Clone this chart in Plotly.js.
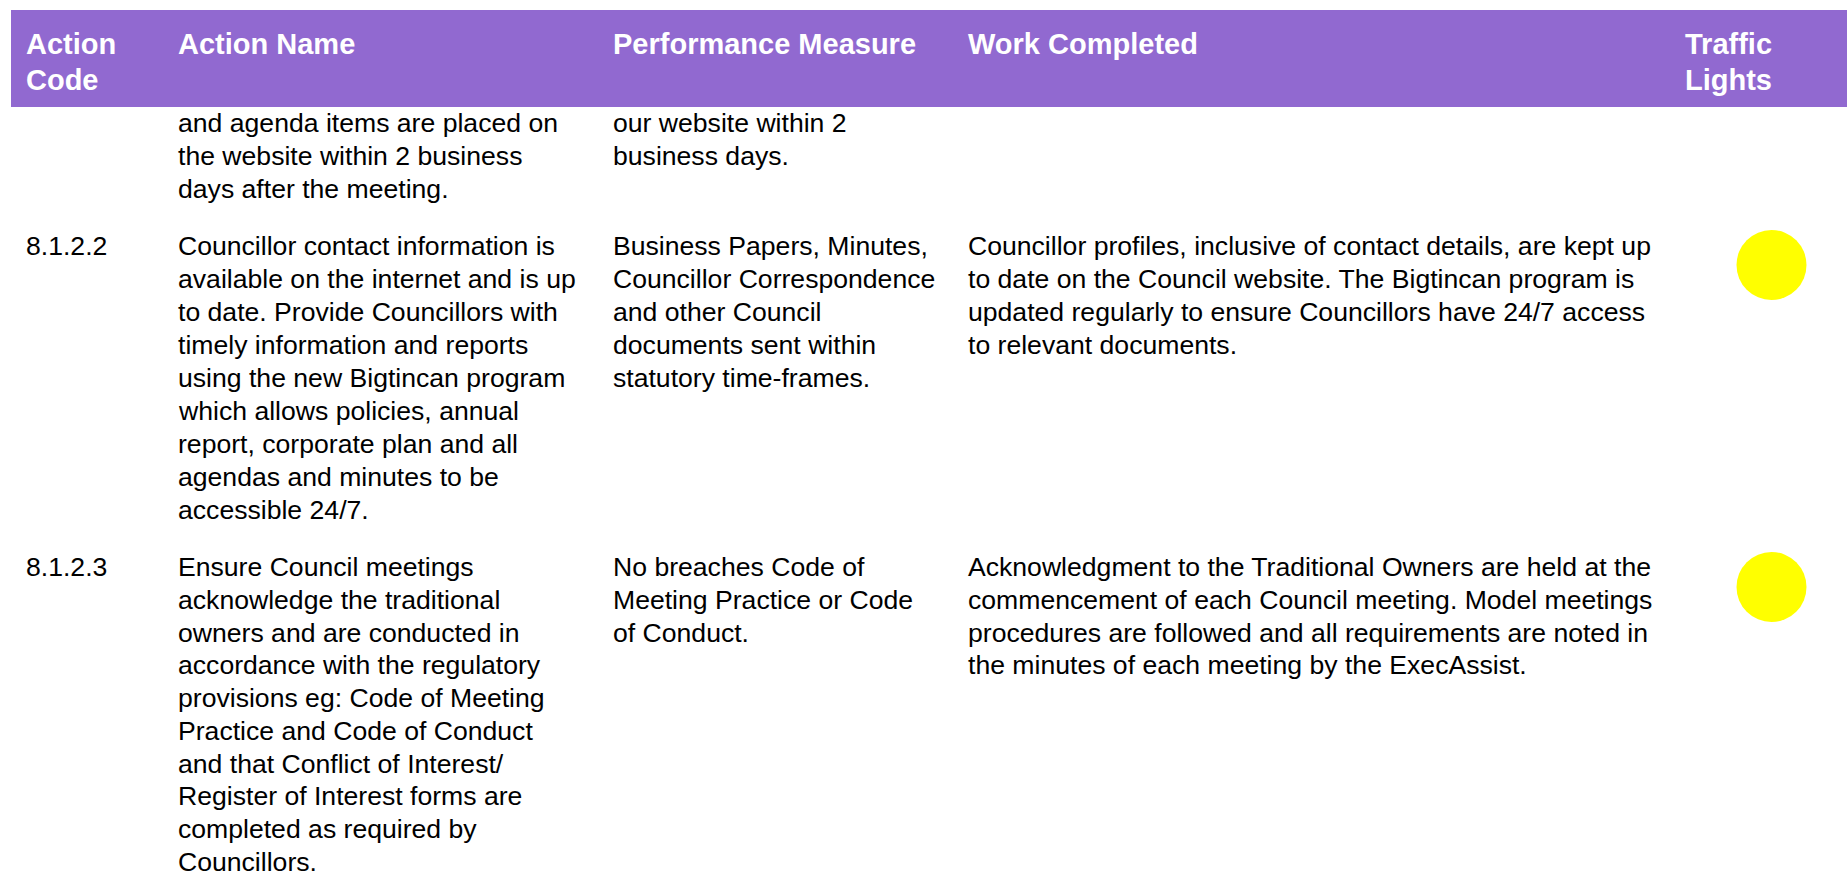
<!DOCTYPE html>
<html>
<head>
<meta charset="utf-8">
<script src="https://cdn.plot.ly/plotly-3.0.1.min.js"></script>
<style>html,body{margin:0;padding:0;background:#fff;}#chart{width:1847px;height:877px;}</style>
</head>
<body>
<div id="chart"></div>
<script>
// ---- data ----
const headers = [["Action", "Code"], ["Action Name"], ["Performance Measure"], ["Work Completed"], ["Traffic", "Lights"]];
const actionCodes = ["", "8.1.2.2", "8.1.2.3"];
const actionNames = [
  ["and agenda items are placed on", "the website within 2 business", "days after the meeting."],
  ["Councillor contact information is", "available on the internet and is up", "to date. Provide Councillors with",
   "timely information and reports", "using the new Bigtincan program", "which allows policies, annual",
   "report, corporate plan and all", "agendas and minutes to be", "accessible 24/7."],
  ["Ensure Council meetings", "acknowledge the traditional", "owners and are conducted in",
   "accordance with the regulatory", "provisions eg: Code of Meeting", "Practice and Code of Conduct",
   "and that Conflict of Interest/", "Register of Interest forms are", "completed as required by", "Councillors."]
];
const performanceMeasures = [
  ["our website within 2", "business days."],
  ["Business Papers, Minutes,", "Councillor Correspondence", "and other Council", "documents sent within", "statutory time-frames."],
  ["No breaches Code of", "Meeting Practice or Code", "of Conduct."]
];
const workCompleted = [
  [],
  ["Councillor profiles, inclusive of contact details, are kept up", "to date on the Council website. The Bigtincan program is",
   "updated regularly to ensure Councillors have 24/7 access", "to relevant documents."],
  ["Acknowledgment to the Traditional Owners are held at the", "commencement of each Council meeting. Model meetings",
   "procedures are followed and all requirements are noted in", "the minutes of each meeting by the ExecAssist."]
];
const trafficLights = [null, "Yellow", "Yellow"];

// ---- layout / style ----
const W = 1847, H = 877;
const FONT = "Liberation Sans, Arial, Helvetica, sans-serif";
const colX = [26, 178, 613, 968, 1685];
const lightX = 1771.5;
const headTop = 10, headBottom = 107;
const headBase = 54, headLine = 36, headFs = 29;
const rowBase = [131.5, 255, 576];
const rowLineH = [33, 33, 32.75];
const bodyFs = 26.6;
const lightOffset = [10, 10, 11];
const lightColors = {Yellow: "#FFFF00", Red: "#FF0000", Green: "#00B050"};

const annotations = [];
function addLine(text, x, baseline, fs, color, bold) {
  annotations.push({
    x: x, y: baseline - fs * 0.33, xref: "x", yref: "y",
    xanchor: "left", yanchor: "middle", showarrow: false,
    text: bold ? "<b>" + text + "</b>" : text,
    font: {family: FONT, size: fs, color: color},
    borderpad: 0, borderwidth: 0
  });
}
headers.forEach((lines, c) => lines.forEach((t, i) => addLine(t, colX[c], headBase + i * headLine, headFs, "#FFFFFF", true)));
actionCodes.forEach((t, r) => { if (t) addLine(t, colX[0], rowBase[r], bodyFs, "#000000", false); });
[actionNames, performanceMeasures, workCompleted].forEach((col, ci) => {
  col.forEach((lines, r) => lines.forEach((t, i) => addLine(t, colX[ci + 1], rowBase[r] + i * rowLineH[r], bodyFs, "#000000", false)));
});

const lx = [], ly = [], lc = [], lt = [];
trafficLights.forEach((s, r) => {
  if (s) { lx.push(lightX); ly.push(rowBase[r] + lightOffset[r]); lc.push(lightColors[s]); lt.push(actionCodes[r] + ": " + s); }
});

const traces = [{
  type: "scatter", mode: "markers", x: lx, y: ly, text: lt, hoverinfo: "text",
  marker: {size: 70, color: lc, line: {width: 0}}, showlegend: false, cliponaxis: false
}];

const layout = {
  width: W, height: H,
  margin: {l: 0, r: 0, t: 0, b: 0, pad: 0},
  paper_bgcolor: "#FFFFFF", plot_bgcolor: "#FFFFFF",
  xaxis: {range: [0, W], visible: false, fixedrange: true},
  yaxis: {range: [H, 0], visible: false, fixedrange: true},
  shapes: [{type: "rect", xref: "x", yref: "y", x0: 11, x1: W, y0: headTop, y1: headBottom,
            fillcolor: "#9169D0", line: {width: 0}, layer: "below"}],
  annotations: annotations,
  showlegend: false
};

Plotly.newPlot("chart", traces, layout, {displayModeBar: false, staticPlot: true});
</script>
</body>
</html>
